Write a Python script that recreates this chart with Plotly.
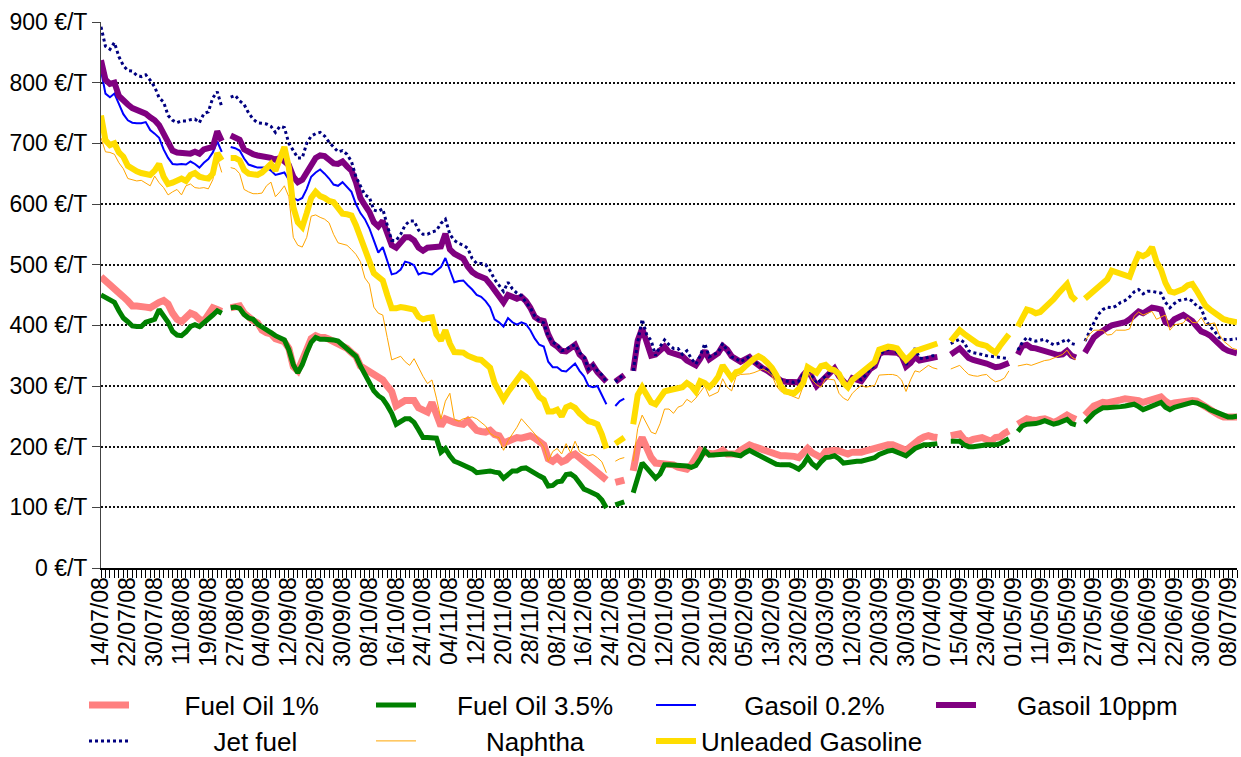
import plotly.graph_objects as go
import pandas as pd

# ---------------- categories (trading days) ----------------
absent_days = ["2008-08-07", "2008-08-08", "2008-10-31", "2008-12-25", "2009-03-06"]
bdays = pd.bdate_range("2008-07-14", "2009-07-10")
bdays = bdays[~bdays.isin(pd.to_datetime(absent_days))]
dates = [d.strftime("%d/%m/%y") for d in bdays]

tick_labels = ["14/07/08", "22/07/08", "30/07/08", "11/08/08", "19/08/08", "27/08/08", "04/09/08",
               "12/09/08", "22/09/08", "30/09/08", "08/10/08", "16/10/08", "24/10/08", "04/11/08",
               "12/11/08", "20/11/08", "28/11/08", "08/12/08", "16/12/08", "24/12/08", "02/01/09",
               "12/01/09", "20/01/09", "28/01/09", "05/02/09", "13/02/09", "23/02/09", "03/03/09",
               "12/03/09", "20/03/09", "30/03/09", "07/04/09", "15/04/09", "23/04/09", "01/05/09",
               "11/05/09", "19/05/09", "27/05/09", "04/06/09", "12/06/09", "22/06/09", "30/06/09",
               "08/07/09"]

N = None
# ---------------- series (EUR / tonne) ----------------
fuel_oil_1 = [
    480, 474, 468, 462, 455, 447, 440, 432, 432, 432,
    430, 429, 435, 438, 441, 435, 420, 410, 406, 412,
    420, 417, 410, 407, 420, 429, 426, 423, N, 429,
    431, 432, 420, 413, 408, 404, 392, 388, 386, 378,
    376, 373, 362, 332, 325, 340, 360, 378, 383, 380,
    380, 377, 374, 370, 366, 362, 355, 349, 333, 328,
    322, 318, 315, 310, 300, 291, 267, 272, 276, 276,
    276, 264, 260, 257, 273, 250, 234, 246, 242, 240,
    238, 237, 243, 235, 227, 225, 224, 227, 220, 218,
    206, 209, 212, 215, 214, 216, 218, 214, 210, 203,
    180, 176, 182, 175, 178, 185, 188, 182, 176, 170,
    163, 158, 152, 145, N, 141, 142, 145, N, 160,
    200, 215, 195, 182, 173, 172, 173, 171, 170, 166,
    165, 163, 170, 182, 194, 190, 188, 188, 190, 194,
    188, 188, 188, 194, 198, 203, 200, 197, 194, 191,
    189, 187, 185, 185, 185, 184, 182, 190, 197, 190,
    186, 182, 192, 194, 194, 193, 189, 188, 191, 190,
    191, 193, 195, 197, 200, 203, 203, 203, 200, 197,
    194, 200, 207, 212, 216, 218, 216, 215, N, N,
    218, 219, 221, 212, 209, 212, 213, 215, 212, 209,
    215, 216, 222, 226, N, 237, 243, 246, 244, 243,
    245, 246, 243, 240, 243, 246, 252, 248, 245, N,
    252, 260, 267, 270, 273, 272, 273, 275, 277, 279,
    278, 279, 276, 273, 275, 276, 280, 282, 275, 270,
    272, 273, 275, 276, 276, 275, 270, 264, 260, 255,
    252, 249, 249, 248, 249]

fuel_oil_35 = [
    450, 446, 442, 438, 424, 412, 406, 399, 398, 398,
    405, 408, 410, 426, 416, 405, 390, 384, 383, 389,
    398, 401, 398, 404, 409, 417, 424, 420, N, 429,
    430, 428, 418, 412, 410, 402, 398, 393, 388, 383,
    380, 376, 360, 335, 322, 335, 355, 372, 380, 377,
    377, 377, 376, 374, 368, 362, 356, 349, 333, 318,
    307, 292, 284, 279, 268, 255, 237, 242, 246, 246,
    240, 228, 215, 215, 215, 214, 191, 197, 185, 176,
    173, 170, 166, 163, 157, 158, 160, 160, 158, 157,
    148, 155, 160, 160, 164, 165, 160, 157, 152, 148,
    135, 136, 142, 143, 154, 155, 150, 140, 130, 127,
    124, 120, 112, 99, N, 104, 106, 109, N, 124,
    150, 173, 165, 155, 148, 155, 170, 170, 170, 170,
    170, 168, 166, 169, 180, 194, 186, 187, 188, 188,
    188, 188, 186, 185, 190, 194, 190, 186, 183, 180,
    176, 171, 170, 170, 170, 167, 163, 170, 182, 172,
    166, 175, 182, 183, 185, 180, 173, 174, 176, 176,
    176, 178, 180, 182, 187, 191, 193, 194, 190, 188,
    185, 192, 197, 200, 203, 203, 204, 205, N, N,
    209, 209, 209, 203, 200, 200, 200, 202, 203, 202,
    203, 205, 210, 213, N, 225, 234, 237, 237, 238,
    240, 243, 240, 237, 239, 243, 245, 238, 236, N,
    240, 248, 255, 260, 264, 264, 264, 265, 266, 267,
    268, 270, 266, 261, 264, 267, 270, 273, 265, 261,
    265, 267, 267, 270, 273, 272, 270, 266, 261, 258,
    255, 252, 249, 249, 250]

gasoil_02 = [
    820, 782, 776, 782, 765, 748, 738, 734, 733, 733,
    735, 722, 716, 709, 690, 676, 666, 665, 666, 665,
    670, 666, 660, 668, 674, 685, 703, 686, N, 694,
    692, 688, 675, 665, 662, 660, 660, 660, 655, 648,
    650, 652, 640, 610, 606, 610, 625, 645, 652, 657,
    650, 642, 632, 630, 636, 628, 620, 600, 585, 575,
    560, 540, 520, 529, 505, 484, 486, 492, 505, 503,
    499, 484, 487, 486, 484, 490, 496, 511, 490, 471,
    473, 474, 466, 459, 450, 447, 440, 430, 410, 405,
    398, 412, 405, 401, 405, 402, 392, 378, 368, 365,
    340, 331, 331, 325, 324, 331, 337, 325, 316, 300,
    298, 300, 285, 270, N, 267, 275, 279] + [N] * 137

gasoil_10ppm = [
    837, 805, 798, 800, 778, 770, 764, 758, 755, 751,
    749, 743, 738, 730, 716, 697, 688, 685, 684, 685,
    683, 686, 683, 690, 692, 694, 720, 704, N, 713,
    710, 706, 690, 685, 682, 680, 679, 679, 676, 673,
    676, 670, 664, 645, 636, 640, 652, 668, 676, 680,
    679, 673, 667, 666, 670, 662, 655, 636, 610, 598,
    587, 570, 563, 572, 550, 532, 528, 537, 545, 545,
    540, 528, 523, 528, 529, 528, 530, 551, 525, 518,
    515, 510, 497, 488, 483, 480, 477, 468, 458, 446,
    438, 450, 446, 444, 447, 440, 429, 414, 409, 407,
    385, 370, 365, 358, 357, 362, 368, 352, 345, 327,
    334, 323, 316, 307, N, 307, 313, 318, N, 325,
    375, 395, 372, 350, 352, 360, 365, 356, 354, 352,
    349, 342, 338, 334, 345, 358, 344, 350, 354, 366,
    360, 349, 343, 340, 344, 348, 340, 333, 329, 325,
    319, 313, 309, 307, 306, 306, 306, 318, 326, 314,
    300, 307, 314, 320, 329, 316, 306, 300, 313, 311,
    308, 318, 328, 333, 353, 356, 356, 356, 355, 350,
    332, 338, 348, 342, 344, 346, 348, 348, N, N,
    352, 356, 362, 354, 346, 343, 340, 339, 337, 335,
    331, 332, 334, 338, N, 352, 366, 368, 363, 362,
    360, 358, 354, 352, 351, 352, 358, 350, 347, N,
    355, 368, 380, 386, 392, 396, 400, 402, 403, 405,
    410, 416, 423, 420, 426, 429, 428, 426, 405, 402,
    410, 414, 417, 412, 407, 398, 390, 387, 383, 376,
    368, 362, 358, 356, 354]

jet_fuel = [
    892, 860, 855, 866, 843, 828, 820, 819, 812, 810,
    813, 804, 793, 775, 768, 746, 738, 734, 737, 737,
    739, 740, 734, 749, 752, 775, 785, 760, N, 776,
    779, 770, 764, 750, 740, 734, 733, 732, 728, 718,
    728, 726, 700, 688, 676, 676, 700, 712, 716, 718,
    712, 702, 694, 686, 688, 682, 670, 645, 630, 615,
    611, 590, 588, 592, 565, 540, 540, 550, 565, 572,
    572, 557, 550, 550, 554, 556, 568, 575, 550, 540,
    535, 532, 527, 510, 502, 502, 500, 490, 476, 465,
    456, 471, 460, 453, 449, 438, 429, 415, 407, 404,
    382, 372, 368, 358, 360, 365, 368, 355, 348, 328,
    334, 325, 318, 307, N, 307, 314, 320, N, 325,
    372, 410, 385, 375, 350, 365, 376, 368, 362, 362,
    352, 358, 345, 336, 350, 370, 348, 352, 355, 370,
    358, 348, 345, 340, 344, 349, 342, 334, 330, 326,
    320, 314, 310, 308, 307, 306, 308, 320, 328, 316,
    304, 310, 316, 322, 331, 318, 308, 301, 312, 314,
    310, 318, 328, 334, 348, 358, 360, 364, 355, 352,
    335, 350, 362, 346, 345, 348, 350, 350, N, N,
    370, 373, 377, 372, 358, 355, 354, 352, 350, 349,
    348, 347, 346, 345, N, 359, 372, 380, 376, 374,
    376, 377, 372, 368, 370, 373, 377, 370, 368, N,
    374, 390, 404, 418, 426, 430, 429, 432, 438, 441,
    447, 455, 459, 452, 456, 456, 455, 453, 438, 429,
    436, 441, 442, 444, 440, 432, 428, 408, 398, 390,
    380, 377, 376, 377, 378]

naphtha = [
    709, 686, 685, 682, 668, 658, 642, 640, 638, 639,
    635, 630, 646, 635, 627, 615, 620, 624, 615, 630,
    633, 627, 626, 627, 625, 640, 676, 652, N, 660,
    658, 650, 624, 620, 617, 617, 618, 630, 636, 612,
    620, 630, 612, 545, 532, 529, 545, 580, 582, 578,
    575, 569, 550, 536, 534, 532, 525, 517, 505, 478,
    468, 430, 420, 417, 380, 343, 346, 349, 340, 334,
    345, 330, 316, 304, 310, 280, 246, 275, 288, 245,
    242, 246, 248, 249, 246, 240, 234, 222, 217, 215,
    194, 210, 220, 232, 246, 238, 230, 221, 210, 200,
    176, 192, 197, 188, 205, 190, 209, 192, 188, 185,
    187, 182, 175, 157, N, 176, 180, 182, N, 176,
    230, 252, 238, 224, 221, 238, 262, 262, 255, 265,
    268, 278, 273, 280, 290, 300, 283, 286, 290, 312,
    298, 292, 316, 319, 319, 320, 322, 325, 328, 324,
    318, 300, 291, 288, 285, 282, 279, 300, 325, 310,
    302, 298, 312, 311, 310, 288, 280, 276, 288, 295,
    301, 298, 300, 301, 318, 319, 319, 319, 317, 310,
    291, 310, 325, 323, 328, 334, 330, 328, N, N,
    328, 331, 334, 326, 319, 317, 316, 318, 319, 312,
    307, 309, 313, 325, N, 333, 334, 336, 334, 337,
    340, 342, 343, 346, 349, 352, 359, 348, 343, N,
    374, 385, 392, 392, 392, 384, 385, 392, 392, 392,
    394, 415, 422, 417, 420, 423, 410, 414, 417, 392,
    401, 402, 404, 413, 405, 404, 413, 401, 402, 404,
    385, 374, 368, 362, 360]

unleaded = [
    746, 705, 697, 700, 685, 678, 663, 657, 654, 651,
    650, 648, 655, 666, 645, 633, 635, 639, 642, 638,
    648, 651, 645, 643, 642, 650, 684, 672, N, 676,
    676, 672, 656, 650, 648, 648, 652, 660, 666, 655,
    675, 694, 660, 595, 570, 562, 585, 610, 620, 613,
    610, 605, 603, 595, 584, 583, 581, 565, 545, 522,
    505, 486, 480, 474, 450, 428, 428, 430, 429, 428,
    426, 414, 410, 412, 413, 385, 375, 392, 370, 356,
    356, 355, 350, 346, 344, 343, 336, 330, 305, 290,
    278, 290, 300, 307, 320, 315, 307, 295, 282, 277,
    258, 258, 261, 250, 265, 268, 264, 255, 249, 242,
    240, 237, 220, 197, N, 205, 210, 215, N, 237,
    285, 298, 285, 273, 270, 280, 291, 293, 295, 298,
    298, 305, 300, 291, 308, 305, 298, 305, 315, 334,
    322, 313, 323, 325, 332, 340, 345, 349, 345, 338,
    330, 318, 300, 291, 289, 288, 295, 305, 331, 325,
    322, 333, 335, 328, 326, 320, 305, 298, 310, 316,
    322, 328, 334, 340, 360, 363, 365, 364, 362, 352,
    343, 350, 358, 360, 362, 365, 368, 370, N, N,
    374, 382, 392, 386, 380, 375, 370, 368, 366, 360,
    355, 366, 375, 385, N, 398, 412, 426, 424, 420,
    422, 428, 435, 443, 452, 462, 468, 448, 441, N,
    444, 450, 456, 462, 468, 476, 490, 488, 485, 482,
    480, 500, 517, 514, 518, 529, 505, 492, 470, 456,
    454, 457, 460, 466, 468, 457, 445, 432, 426, 420,
    414, 410, 408, 407, 405]

series_names = ["Fuel Oil 1%", "Fuel Oil 3.5%", "Gasoil 0.2%", "Gasoil 10ppm",
                "Jet fuel", "Naphtha", "Unleaded Gasoline"]
series_values = [fuel_oil_1, fuel_oil_35, gasoil_02, gasoil_10ppm, jet_fuel, naphtha, unleaded]

# ---------------- styling ----------------
colors = ["#FF8080", "#008000", "#0000FF", "#800080", "#000080", "#FFA500", "#FFDD00"]
widths = [7, 5, 2, 6, 3, 1, 6]
dashes = ["solid", "solid", "solid", "solid", "3px,3px", "solid", "solid"]
# legend placement: (left px, centre y px, leading pad in non-breaking spaces)
legend_pos = [(84, 705, 7), (371, 705, 5), (651, 705, 6), (931, 705, 5),
              (84, 741, 11), (371, 741, 9), (651, 741, 0)]

W, H = 1241, 757
FONT = "Liberation Sans, Arial, sans-serif"
NBSP = "\u00a0"

fig = go.Figure()
for k, (name, vals) in enumerate(zip(series_names, series_values)):
    lg = "legend" if k == 0 else f"legend{k + 1}"
    fig.add_trace(go.Scatter(
        x=dates, y=vals, name=NBSP * legend_pos[k][2] + name, mode="lines", connectgaps=False,
        line=dict(color=colors[k], width=widths[k], dash=dashes[k]),
        legend=lg))

legends = {}
for k, (lx, ly, pad) in enumerate(legend_pos):
    key = "legend" if k == 0 else f"legend{k + 1}"
    legends[key] = dict(
        xref="container", yref="container",
        x=lx / W, y=1 - ly / H, xanchor="left", yanchor="middle",
        itemwidth=40, bgcolor="rgba(0,0,0,0)", borderwidth=0,
        font=dict(family=FONT, size=26, color="#000"))

ticktext = [d if d in tick_labels else "" for d in dates]

fig.update_layout(
    width=W, height=H,
    margin=dict(l=101, r=4, t=22, b=189, autoexpand=False),
    paper_bgcolor="white", plot_bgcolor="white",
    font=dict(family=FONT, size=23, color="#000"),
    showlegend=True,
    xaxis=dict(
        type="category", tickmode="array", tickvals=dates, ticktext=ticktext,
        tickangle=-90, ticks="outside", ticklen=8, tickwidth=1, tickcolor="#000",
        ticklabelstandoff=-10,
        showgrid=False, showline=True, linecolor="#000", linewidth=2,
        tickfont=dict(family=FONT, size=23, color="#000"),
        automargin=False, fixedrange=True),
    yaxis=dict(
        range=[0, 900], dtick=100, tick0=0, ticksuffix=" €/T",
        showgrid=True, gridcolor="#111", gridwidth=1.5, griddash="2px,2px",
        ticks="outside", ticklen=8, tickcolor="#444", tickwidth=1,
        showline=True, linecolor="#444", linewidth=1, zeroline=False,
        tickfont=dict(family=FONT, size=23, color="#000"),
        automargin=False, fixedrange=True),
    **legends,
)

fig.write_html("out.html", config={"displayModeBar": False},
               post_script="document.body.style.margin='0';")
